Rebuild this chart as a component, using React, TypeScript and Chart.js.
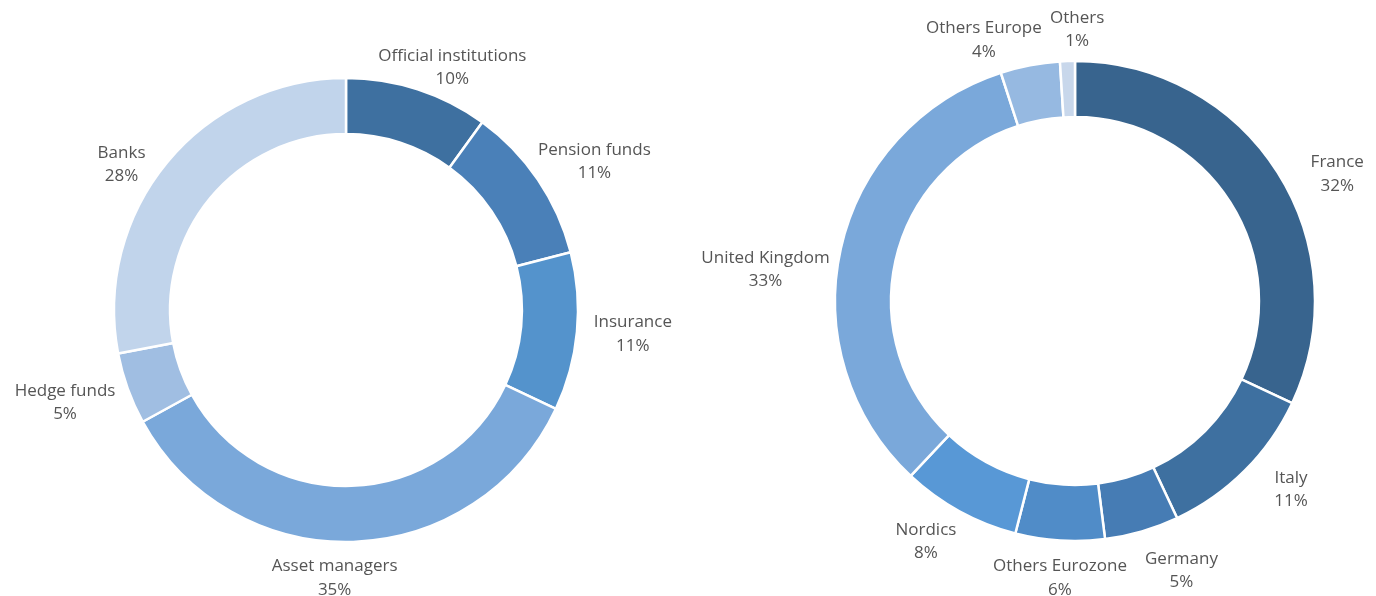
import React, { useEffect, useRef } from "react";
import { Chart, registerables } from "chart.js";

Chart.register(...registerables);

// ---- Data ----
const investorLabels = [
  "Official institutions",
  "Pension funds",
  "Insurance",
  "Asset managers",
  "Hedge funds",
  "Banks",
];
const investorValues = [10, 11, 11, 35, 5, 28];
const investorColors = ["#3e70a0", "#4a80b8", "#5493cc", "#7aa8da", "#a0bee2", "#c1d4eb"];

const countryLabels = [
  "France",
  "Italy",
  "Germany",
  "Others Eurozone",
  "Nordics",
  "United Kingdom",
  "Others Europe",
  "Others",
];
const countryValues = [32, 11, 5, 6, 8, 33, 4, 1];
const countryColors = [
  "#38648e",
  "#3e70a0",
  "#467cb4",
  "#508cc8",
  "#5898d6",
  "#7aa8da",
  "#96b9e1",
  "#c8d7eb",
];

// label nudges (text placement tweaks, px)
const investorNudges = [[8, 12], [0, 2], [5, -1], [-21, 1], [-4, 2], [-18, 25]];
const countryNudges = [[27, 21], [26, -6], [26, 5], [5, 2], [-13, -1], [-1, 29], [-33, 10], [11, 4]];

const labelPlugin = {
  id: "outerLabels",
  afterDatasetsDraw(chart: any, _args: any, opts: any) {
    const ctx = chart.ctx as CanvasRenderingContext2D;
    const meta = chart.getDatasetMeta(0);
    const labels = chart.data.labels as string[];
    const values = chart.data.datasets[0].data as number[];
    const total = values.reduce((a, b) => a + b, 0);
    ctx.save();
    ctx.font = `${opts.size}px ${opts.family}`;
    ctx.fillStyle = opts.color;
    ctx.textAlign = "center";
    ctx.textBaseline = "middle";
    meta.data.forEach((arc: any, i: number) => {
      const { x, y, startAngle, endAngle, outerRadius } = arc.getProps(
        ["x", "y", "startAngle", "endAngle", "outerRadius"],
        true
      );
      const mid = (startAngle + endAngle) / 2;
      const ux = Math.cos(mid);
      const uy = Math.sin(mid);
      const l1 = String(labels[i]);
      const l2 = Math.round((values[i] / total) * 100) + "%";
      const w = Math.max(ctx.measureText(l1).width, ctx.measureText(l2).width);
      const lh = opts.lineHeight;
      const h = lh * 2;
      const r = outerRadius + opts.gap;
      const n = (opts.nudges && opts.nudges[i]) || [0, 0];
      const cx = x + r * ux + (ux * w) / 2 + n[0];
      const cy = y + r * uy + (uy * h) / 2 + n[1];
      ctx.fillText(l1, cx, cy - lh / 2);
      ctx.fillText(l2, cx, cy + lh / 2);
    });
    ctx.restore();
  },
};

function makeConfig(
  labels: string[],
  values: number[],
  colors: string[],
  nudges: number[][],
  radius: number,
  cutout: number,
  padding: { left: number; right: number; top: number; bottom: number }
): any {
  return {
    type: "doughnut",
    data: {
      labels,
      datasets: [
        {
          data: values,
          backgroundColor: colors,
          borderColor: "#ffffff",
          borderWidth: 2.5,
        },
      ],
    },
    options: {
      animation: false,
      responsive: false,
      radius,
      cutout,
      layout: { padding },
      plugins: {
        legend: { display: false },
        tooltip: { enabled: false },
        outerLabels: {
          size: 17,
          family: "'Open Sans', sans-serif",
          color: "#555555",
          lineHeight: 23.5,
          gap: 12,
          nudges,
        },
      },
    },
    plugins: [labelPlugin],
  };
}

export default function App() {
  const leftRef = useRef<HTMLCanvasElement>(null);
  const rightRef = useRef<HTMLCanvasElement>(null);

  useEffect(() => {
    document.body.style.margin = "0";
    const left = new Chart(
      leftRef.current!,
      makeConfig(investorLabels, investorValues, investorColors, investorNudges, 232, 175, {
        left: 114,
        right: 110,
        top: 78,
        bottom: 54,
      })
    );
    const right = new Chart(
      rightRef.current!,
      makeConfig(countryLabels, countryValues, countryColors, countryNudges, 240, 183, {
        left: 147,
        right: 61,
        top: 61,
        bottom: 55,
      })
    );
    return () => {
      left.destroy();
      right.destroy();
    };
  }, []);

  return (
    <div style={{ position: "relative", width: 1376, height: 596, background: "#fff" }}>
      <canvas
        ref={leftRef}
        width={688}
        height={596}
        style={{ position: "absolute", left: 0, top: 0, width: 688, height: 596 }}
      />
      <canvas
        ref={rightRef}
        width={688}
        height={596}
        style={{ position: "absolute", left: 688, top: 0, width: 688, height: 596 }}
      />
    </div>
  );
}
